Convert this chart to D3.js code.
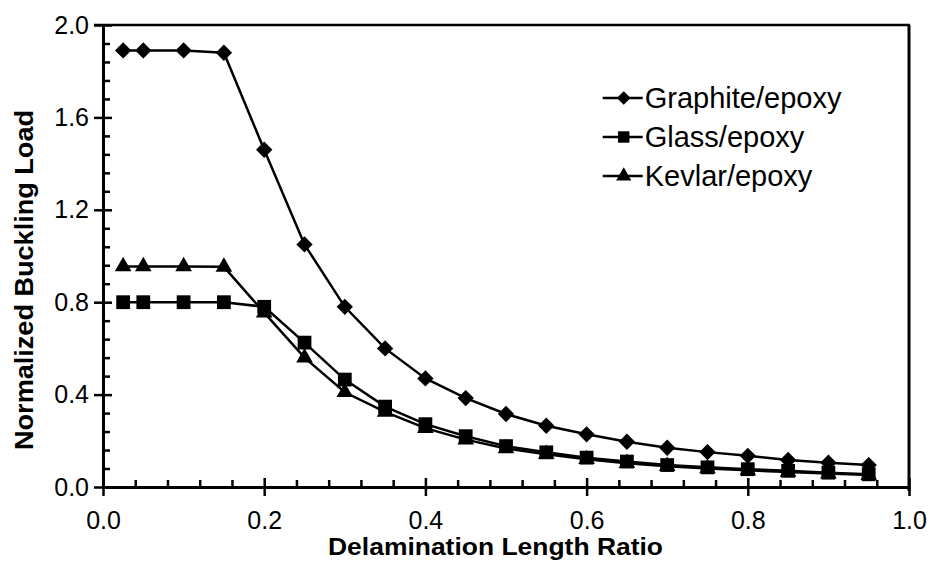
<!DOCTYPE html>
<html>
<head>
<meta charset="utf-8">
<script src="https://cdn.jsdelivr.net/npm/d3@7"></script>
<style>
    body { margin: 0; background: #fff; }
    svg { display: block; font-family: "Liberation Sans", Arial, sans-serif; }
</style>
</head>
<body>
<div id="chart"></div>
<script>
// Delamination length ratio at each computed point
const ratios = [0.025, 0.05, 0.1, 0.15, 0.2, 0.25, 0.3, 0.35, 0.4, 0.45, 0.5, 0.55, 0.6, 0.65, 0.7, 0.75, 0.8, 0.85, 0.9, 0.95]
// Normalized buckling load per material
const graphite = [1.89, 1.89, 1.89, 1.88, 1.46, 1.05, 0.78, 0.60, 0.47, 0.385, 0.316, 0.265, 0.228, 0.196, 0.17, 0.151, 0.135, 0.117, 0.105, 0.095]
const glass = [0.80, 0.80, 0.80, 0.80, 0.78, 0.625, 0.465, 0.348, 0.272, 0.22, 0.177, 0.15, 0.127, 0.11, 0.095, 0.085, 0.077, 0.07, 0.062, 0.055]
const kevlar = [0.955, 0.955, 0.955, 0.953, 0.755, 0.56, 0.41, 0.325, 0.255, 0.205, 0.167, 0.142, 0.12, 0.103, 0.09, 0.08, 0.072, 0.065, 0.058, 0.052]
const seriesNames = ["Graphite/epoxy", "Glass/epoxy", "Kevlar/epoxy"]
// Tick labels
const xTicks = [0.0, 0.2, 0.4, 0.6, 0.8, 1.0]
const yTicks = [0.0, 0.4, 0.8, 1.2, 1.6, 2.0]

function drawChart() {
    const W = 930, H = 564
    const margin = { top: 25, right: 21, bottom: 77, left: 103 }
    const width = W - margin.left - margin.right
    const height = H - margin.top - margin.bottom

    const svg = d3.select("#chart").append("svg")
        .attr("width", W)
        .attr("height", H)

    const g = svg.append("g")
        .attr("transform", "translate(" + margin.left + "," + margin.top + ")")

    const x = d3.scaleLinear().domain([0, 1]).range([0, width])
    const y = d3.scaleLinear().domain([0, 2]).range([height, 0])

    const xMinor = d3.range(0, 1.0001, 0.04).filter(v => Math.abs(v / 0.2 - Math.round(v / 0.2)) > 1e-6)
    const yMinor = d3.range(0, 2.0001, 0.08).filter(v => Math.abs(v / 0.4 - Math.round(v / 0.4)) > 1e-6)

    // frame: top and right lines
    g.append("line").attr("x1", -9).attr("x2", width + 1).attr("y1", 0).attr("y2", 0)
        .attr("stroke", "#000").attr("stroke-width", 2.5)
    g.append("line").attr("x1", width).attr("x2", width).attr("y1", 0).attr("y2", height + 4)
        .attr("stroke", "#000").attr("stroke-width", 3)

    // y axis: labels + outer half of major ticks
    g.append("g")
        .call(d3.axisLeft(y).tickValues(yTicks).tickSize(9).tickSizeOuter(0).tickPadding(5).tickFormat(d3.format(".1f")))
    g.append("g")
        .call(d3.axisRight(y).tickValues(yTicks).tickSize(9).tickSizeOuter(0).tickFormat(""))
    g.append("g")
        .call(d3.axisRight(y).tickValues(yMinor).tickSize(7).tickSizeOuter(0).tickFormat(""))

    // x axis
    g.append("g")
        .attr("transform", "translate(0," + height + ")")
        .call(d3.axisBottom(x).tickValues(xTicks).tickSize(9).tickSizeOuter(0).tickPadding(15).tickFormat(d3.format(".1f")))
    g.append("g")
        .attr("transform", "translate(0," + height + ")")
        .call(d3.axisTop(x).tickValues(xTicks).tickSize(9).tickSizeOuter(0).tickFormat(""))
    g.append("g")
        .attr("transform", "translate(0," + height + ")")
        .call(d3.axisTop(x).tickValues(xMinor).tickSize(7).tickSizeOuter(0).tickFormat(""))

    g.selectAll(".domain").attr("stroke", "#000").attr("stroke-width", 3)
    g.selectAll(".tick line").attr("stroke", "#000").attr("stroke-width", 2.5)
    g.selectAll(".tick text").attr("fill", "#000").style("font-size", "25px")

    // axis titles
    g.append("text")
        .attr("x", x(0.487))
        .attr("y", height + 68)
        .attr("text-anchor", "middle")
        .attr("textLength", 335)
        .attr("lengthAdjust", "spacingAndGlyphs")
        .style("font-size", "24px")
        .style("font-weight", "bold")
        .text("Delamination Length Ratio")

    g.append("text")
        .attr("transform", "translate(" + (-70) + "," + (y(1) + 24) + ") rotate(-90)")
        .attr("text-anchor", "middle")
        .attr("textLength", 340)
        .attr("lengthAdjust", "spacingAndGlyphs")
        .style("font-size", "26px")
        .style("font-weight", "bold")
        .text("Normalized Buckling Load")

    const symbols = [
        d3.symbol().type(d3.symbolDiamond2).size(170),
        d3.symbol().type(d3.symbolSquare).size(190),
        d3.symbol().type(d3.symbolTriangle).size(120)
    ]
    const series = [graphite, glass, kevlar]

    const line = d3.line()
        .x((d, i) => x(ratios[i]))
        .y(d => y(d))

    series.forEach((values, s) => {
        g.append("path")
            .datum(values)
            .attr("fill", "none")
            .attr("stroke", "#000")
            .attr("stroke-width", 2.5)
            .attr("d", line)

        g.selectAll(".m" + s)
            .data(values)
            .enter().append("path")
            .attr("class", "m" + s)
            .attr("transform", (d, i) => "translate(" + x(ratios[i]) + "," + y(d) + ")")
            .attr("d", symbols[s]())
            .attr("fill", "#000")
    })

    // legend
    const legend = g.append("g")
        .attr("transform", "translate(" + x(0.62) + ",0)")
    seriesNames.forEach((name, s) => {
        const row = legend.append("g").attr("transform", "translate(0," + (73 + s * 39) + ")")
        row.append("line").attr("x1", 0).attr("x2", 40).attr("y1", 0).attr("y2", 0)
            .attr("stroke", "#000").attr("stroke-width", 2.5)
        row.append("path")
            .attr("transform", "translate(21,0)")
            .attr("d", d3.symbol().type([d3.symbolDiamond2, d3.symbolSquare, d3.symbolTriangle][s]).size([120, 130, 100][s])())
            .attr("fill", "#000")
        row.append("text")
            .attr("x", 42)
            .attr("y", 0)
            .attr("dy", "0.36em")
            .style("font-size", "29px")
            .text(name)
    })
}

window.addEventListener("load", drawChart)
</script>
</body>
</html>
